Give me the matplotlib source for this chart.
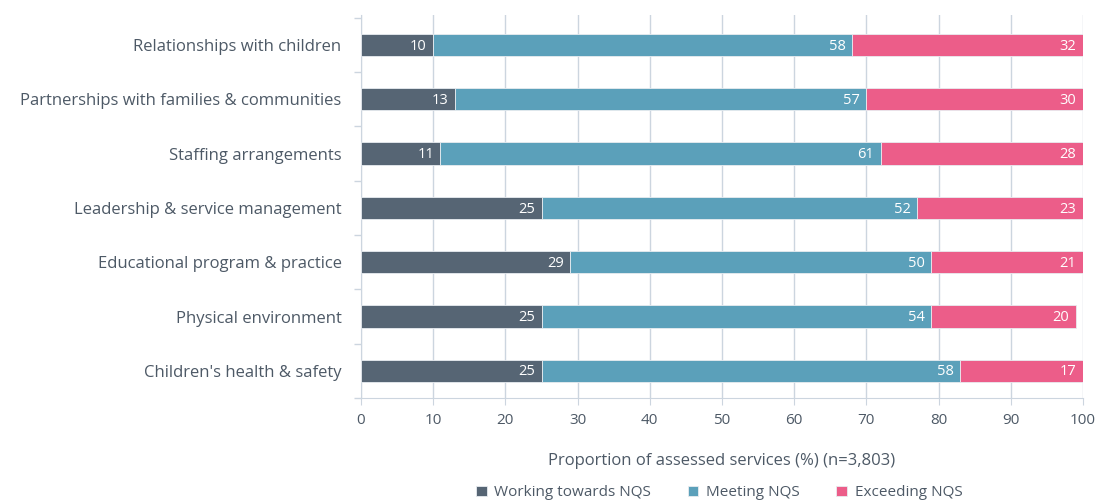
import numpy as np
import matplotlib.pyplot as plt

plt.rcParams['font.family'] = ['Open Sans', 'DejaVu Sans']

categories = ['Relationships with children',
              'Partnerships with families & communities',
              'Staffing arrangements',
              'Leadership & service management',
              'Educational program & practice',
              'Physical environment',
              "Children's health & safety"]
working = [10, 13, 11, 25, 29, 25, 25]
meeting = [58, 57, 61, 52, 50, 54, 58]
exceeding = [32, 30, 28, 23, 21, 20, 17]
series_names = ['Working towards NQS', 'Meeting NQS', 'Exceeding NQS']
colors = ['#566574', '#5ba0ba', '#ec5d89']
text_col = '#4d5966'
grid_col = '#ccd5df'

fig = plt.figure(figsize=(10.98, 5.04), dpi=100)
ax = fig.add_axes([0.3288, 0.2103, 0.6575, 0.7597])

y = np.arange(len(categories))
left = np.zeros(len(categories))
for vals, name, c in zip([working, meeting, exceeding], series_names, colors):
    vals = np.array(vals)
    ax.barh(y, vals, left=left, height=0.41, color=c, label=name,
            edgecolor='#e8ecf0', linewidth=0.6, zorder=3)
    for yi, l, v in zip(y, left, vals):
        ax.text(l + v - 0.9, yi + 0.02, str(v), ha='right', va='center',
                color='white', fontsize=10.5, zorder=4)
    left = left + vals

ax.set_xlim(0, 100)
ax.set_ylim(len(categories) - 0.52, -0.55)
ax.set_xticks(range(0, 101, 10))
ax.set_yticks(y)
ax.set_yticklabels(categories)
ax.set_yticks(np.arange(-0.5, len(categories), 1), minor=True)
ax.tick_params(axis='y', which='major', length=0, pad=14, labelsize=12, labelcolor=text_col)
ax.tick_params(axis='y', which='minor', length=5, color=grid_col, width=1)
ax.tick_params(axis='x', length=5, color=grid_col, labelsize=11, labelcolor=text_col, pad=6)
ax.grid(axis='x', color=grid_col, linewidth=1, zorder=0)
for s in ['top', 'right']:
    ax.spines[s].set_visible(False)
ax.spines['left'].set_color(grid_col)
ax.spines['bottom'].set_color(grid_col)

ax.set_xlabel('Proportion of assessed services (%) (n=3,803)', fontsize=12,
              color=text_col, labelpad=18)

leg = fig.legend(loc='center', bbox_to_anchor=(0.655, 0.022), ncol=3, frameon=False,
                 fontsize=11, handlelength=0.7, handleheight=0.7, handletextpad=0.5,
                 columnspacing=2.4)
for t in leg.get_texts():
    t.set_color(text_col)

fig.savefig('out.png', dpi=100)
